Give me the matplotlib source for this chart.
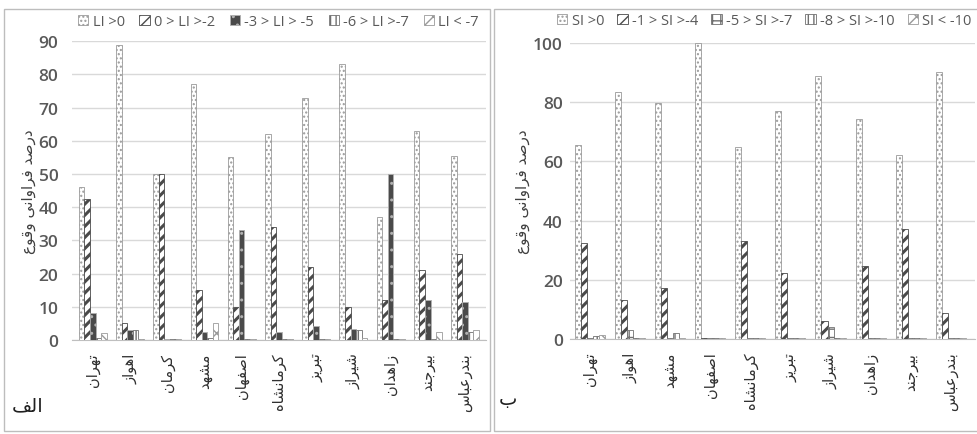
import numpy as np
import matplotlib
matplotlib.use("Agg")
import matplotlib.pyplot as plt
from matplotlib.patches import Rectangle

# ---- data ----
cities_li = ['تهران', 'اهواز', 'کرمان', 'مشهد', 'اصفهان', 'کرمانشاه',
             'تبریز', 'شیراز', 'زاهدان', 'بیرجند', 'بندرعباس']
li_labels = ['LI >0', '0 > LI >-2', '-3 > LI > -5', '-6 > LI >-7', 'LI < -7']
li_gt0 = [46, 89, 50, 77, 55, 62, 73, 83, 37, 63, 55.5]
li_0_2 = [42.5, 5, 50, 15, 10, 34, 22, 10, 12, 21, 26]
li_3_5 = [8, 3, 0.3, 2.5, 33, 2.5, 4.3, 3.3, 50, 12, 11.6]
li_6_7 = [0.5, 3, 0.3, 0.5, 0.3, 0.3, 0.3, 3, 0.3, 0.3, 2.5]
li_lt7 = [2, 0.3, 0.3, 5, 0.3, 0.3, 0.3, 0.5, 0.3, 2.5, 3]

cities_si = ['تهران', 'اهواز', 'مشهد', 'اصفهان', 'کرمانشاه',
             'تبریز', 'شیراز', 'زاهدان', 'بیرجند', 'بندرعباس']
si_labels = ['SI >0', '-1 > SI >-4', '-5 > SI >-7', '-8 > SI >-10', 'SI < -10']
si_gt0 = [65.5, 83.3, 79.7, 100, 65, 77, 89, 74.3, 62.3, 90.3]
si_1_4 = [32.3, 13.3, 17.2, 0.5, 33.2, 22.2, 6, 24.8, 37.2, 8.7]
si_5_7 = [0.5, 3, 0.5, 0.3, 0.5, 0.5, 4.2, 0.5, 0.5, 0.5]
si_8_10 = [1, 0.5, 2, 0.3, 0.5, 0.3, 0.5, 0.3, 0.3, 0.3]
si_lt10 = [1.5, 0.5, 0.5, 0.3, 0.3, 0.3, 0.3, 0.3, 0.3, 0.3]

ylab = 'درصد فراوانی وقوع'

# ---- minimal arabic/persian shaping (matplotlib has no shaping) ----
FORMS = {
    'ا': ('\uFE8D', '\uFE8E', None, None),
    'ب': ('\uFE8F', '\uFE90', '\uFE91', '\uFE92'),
    'ت': ('\uFE95', '\uFE96', '\uFE97', '\uFE98'),
    'ج': ('\uFE9D', '\uFE9E', '\uFE9F', '\uFEA0'),
    'د': ('\uFEA9', '\uFEAA', None, None),
    'ر': ('\uFEAD', '\uFEAE', None, None),
    'ز': ('\uFEAF', '\uFEB0', None, None),
    'س': ('\uFEB1', '\uFEB2', '\uFEB3', '\uFEB4'),
    'ش': ('\uFEB5', '\uFEB6', '\uFEB7', '\uFEB8'),
    'ص': ('\uFEB9', '\uFEBA', '\uFEBB', '\uFEBC'),
    'ع': ('\uFEC9', '\uFECA', '\uFECB', '\uFECC'),
    'ف': ('\uFED1', '\uFED2', '\uFED3', '\uFED4'),
    'ق': ('\uFED5', '\uFED6', '\uFED7', '\uFED8'),
    'ل': ('\uFEDD', '\uFEDE', '\uFEDF', '\uFEE0'),
    'م': ('\uFEE1', '\uFEE2', '\uFEE3', '\uFEE4'),
    'ن': ('\uFEE5', '\uFEE6', '\uFEE7', '\uFEE8'),
    'ه': ('\uFEE9', '\uFEEA', '\uFEEB', '\uFEEC'),
    'و': ('\uFEED', '\uFEEE', None, None),
    'ی': ('\uFBFC', '\uFBFD', '\uFBFE', '\uFBFF'),
    'ک': ('\uFB8E', '\uFB8F', '\uFB90', '\uFB91'),
}


def fa(s):
    out = []
    for i, c in enumerate(s):
        if c not in FORMS:
            out.append(c)
            continue
        f = FORMS[c]
        prev = s[i-1] if i > 0 else ''
        nxt = s[i+1] if i < len(s)-1 else ''
        jp = prev in FORMS and FORMS[prev][2] is not None
        jn = f[2] is not None and nxt in FORMS
        if jp and jn:
            out.append(f[3])
        elif jp:
            out.append(f[1])
        elif jn:
            out.append(f[2])
        else:
            out.append(f[0])
    return ''.join(out[::-1])


numfont = 'Open Sans'
tc = '#595959'

# fc, ec, hatch, hatch linewidth
li_styles = [('white', '#9a9a9a', '....', 1.0),
             ('white', '#4a4a4a', '///', 2.2),
             ('#4a4a4a', '#b0b0b0', '..', 1.0),
             ('white', '#707070', '|||', 1.0),
             ('white', '#9a9a9a', 'xx', 1.0)]
si_styles = [('white', '#9a9a9a', '....', 1.0),
             ('white', '#4a4a4a', '///', 2.2),
             ('white', '#707070', '++', 1.0),
             ('white', '#707070', '|||', 1.0),
             ('white', '#9a9a9a', 'xx', 1.0)]


def panel(ax, cities, series, labels, styles, ymax, ystep, ypad):
    n = len(cities)
    x = np.arange(n)
    w = 0.15
    hs = []
    for k, (vals, st) in enumerate(zip(series, styles)):
        plt.rcParams['hatch.linewidth'] = st[3]
        b = ax.bar(x + (k - 2) * w, vals, w, facecolor=st[0], edgecolor=st[1],
                   hatch=st[2], linewidth=0.6, label=labels[k], zorder=3)
        hs.append(b)
    ax.set_ylim(0, ymax)
    ax.set_yticks(np.arange(0, ymax + 0.1, ystep))
    ax.yaxis.grid(True, color='#d9d9d9', linewidth=1.0, zorder=0)
    ax.set_axisbelow(True)
    for s in ['top', 'right', 'left']:
        ax.spines[s].set_visible(False)
    ax.spines['bottom'].set_color('#bfbfbf')
    ax.tick_params(axis='y', length=0, labelsize=12.5, labelcolor=tc, pad=ypad)
    ax.tick_params(axis='x', length=0, pad=9)
    for t in ax.get_yticklabels():
        t.set_fontfamily(numfont)
        t.set_fontweight('semibold')
    ax.set_xticks(x)
    ax.set_xticklabels([fa(c) for c in cities], rotation=90, fontsize=10.5,
                       family='DejaVu Sans', color='#303030', va='top')
    ax.set_ylabel(fa(ylab), fontsize=11, family='DejaVu Sans', color='#404040',
                  labelpad=2)
    return hs


fig = plt.figure(figsize=[9.77, 4.35], dpi=100)

# panel frames
fig.add_artist(Rectangle((0.004, 0.008), 0.498, 0.97, transform=fig.transFigure,
                         fill=False, ec='#bdbdbd', lw=1.0))
fig.add_artist(Rectangle((0.506, 0.008), 0.5, 0.97, transform=fig.transFigure,
                         fill=False, ec='#bdbdbd', lw=1.0))

ax1 = fig.add_axes([0.074, 0.216, 0.423, 0.687])
hs1 = panel(ax1, cities_li, [li_gt0, li_0_2, li_3_5, li_6_7, li_lt7],
            li_labels, li_styles, 90, 10, 10)
ax1.set_xlim(-0.55, 10.55)
leg1 = ax1.legend(handles=hs1, loc='lower left', bbox_to_anchor=(0.0, 1.02), ncol=5,
                  frameon=False, handlelength=0.7, handleheight=0.7,
                  handletextpad=0.3, columnspacing=1.0, borderaxespad=0.0,
                  prop={'family': numfont, 'size': 10.5})
for t in leg1.get_texts():
    t.set_color(tc)
fig.text(0.012, 0.055, fa('الف'), fontsize=14, family='DejaVu Sans', color='#202020')

ax2 = fig.add_axes([0.583, 0.218, 0.415, 0.681])
hs2 = panel(ax2, cities_si, [si_gt0, si_1_4, si_5_7, si_8_10, si_lt10],
            si_labels, si_styles, 100, 20, 5)
ax2.set_xlim(-0.5, 9.6)
leg2 = ax2.legend(handles=hs2, loc='lower left', bbox_to_anchor=(-0.045, 1.03), ncol=5,
                  frameon=False, handlelength=0.7, handleheight=0.7,
                  handletextpad=0.3, columnspacing=0.9, borderaxespad=0.0,
                  prop={'family': numfont, 'size': 10.5})
for t in leg2.get_texts():
    t.set_color(tc)
fig.text(0.51, 0.07, fa('ب'), fontsize=14, family='DejaVu Sans', color='#202020')

fig.savefig('out.png', dpi=100, facecolor='white')
